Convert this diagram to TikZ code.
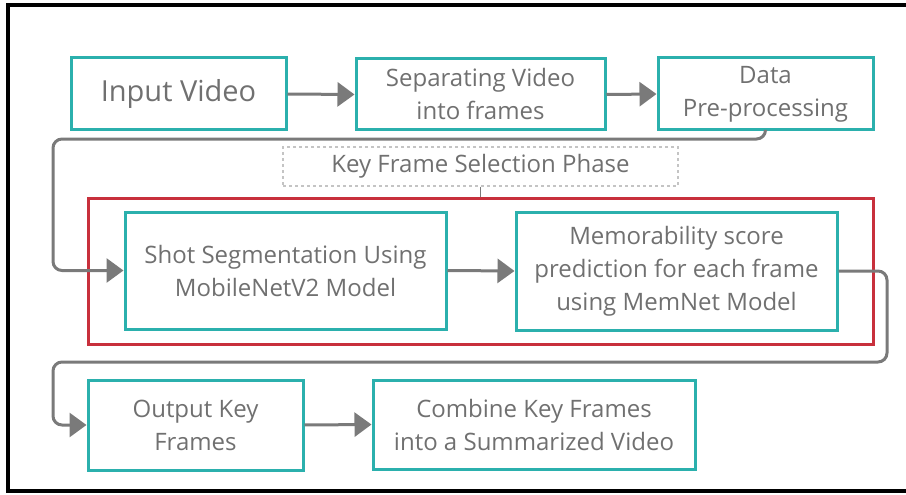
\documentclass[tikz,border=0pt]{standalone}
\usepackage{fontspec}
\setmainfont{Open Sans}
\usepackage{tikz}
\usetikzlibrary{positioning, arrows.meta}
\definecolor{boxteal}{HTML}{2BB0AD}
\definecolor{phasered}{HTML}{C8303C}
\definecolor{txtgray}{HTML}{707070}
\definecolor{linegray}{HTML}{7A7A7A}
\definecolor{dashgray}{HTML}{C4C4C4}

\begin{document}
\begin{tikzpicture}[x=1pt,y=-1pt,
        stage/.style={draw=boxteal, line width=3pt, text=txtgray, align=center,
            font=\fontsize{24}{33}\selectfont, inner sep=0pt},
        phasebox/.style={draw=phasered, line width=3pt},
        tag/.style={draw=dashgray, dashed, line width=1.2pt, text=txtgray,
            font=\fontsize{24}{33}\selectfont, inner sep=0pt},
        flow/.style={draw=linegray, line width=3pt,
            -{Triangle[length=17pt,width=24pt]}, rounded corners=9pt}]
        \useasboundingbox (0,0) rectangle (906,495);
        \draw[line width=4.5pt] (8,5) rectangle (930,491);

        \node[phasebox, minimum width=785pt, minimum height=146pt] (kfs) at (480.5,271) {};
        \node[tag, minimum width=395pt, minimum height=39pt] (phase) at (480.5,166.5) {Key Frame Selection Phase};

        \node[stage, minimum width=215pt, minimum height=72pt, font=\fontsize{29}{33}\selectfont] (inp) at (178.5,94) {Input Video};
        \node[stage, minimum width=249pt, minimum height=71pt] (sep) at (480.5,94.5) {Separating Video\\into frames};
        \node[stage, minimum width=215pt, minimum height=72pt] (prep) at (765.5,94) {Data\\Pre-processing};
        \node[stage, minimum width=321pt, minimum height=117pt] (shot) at (285.5,270.5) {Shot Segmentation Using\\MobileNetV2 Model};
        \node[stage, minimum width=321pt, minimum height=118pt] (mem) at (676.5,271) {Memorability score\\prediction for each frame\\using MemNet Model};
        \node[stage, minimum width=215pt, minimum height=90pt] (outk) at (195.5,425) {Output Key\\Frames};
        \node[stage, minimum width=322pt, minimum height=89pt] (comb) at (534,424.5) {Combine Key Frames\\into a Summarized Video};

        \coordinate (turnA) at (53,139);
        \coordinate (turnB) at (887,362);
        \coordinate (turnC) at (53,425);

        \draw[flow] (inp.east) -- (sep.west);
        \draw[flow] (sep.east) -- (prep.west);
        \draw[flow] (prep.south) |- (turnA) |- (shot.west);
        \draw[flow] (shot.east) -- (mem.west);
        \draw[flow] (mem.east) -| (turnB) -| (turnC) -- (outk.west);
        \draw[flow] (outk.east) -- (comb.west);
        \draw[linegray, line width=1.5pt] (phase.south) -- (kfs.north);
    \end{tikzpicture}
\end{document}
